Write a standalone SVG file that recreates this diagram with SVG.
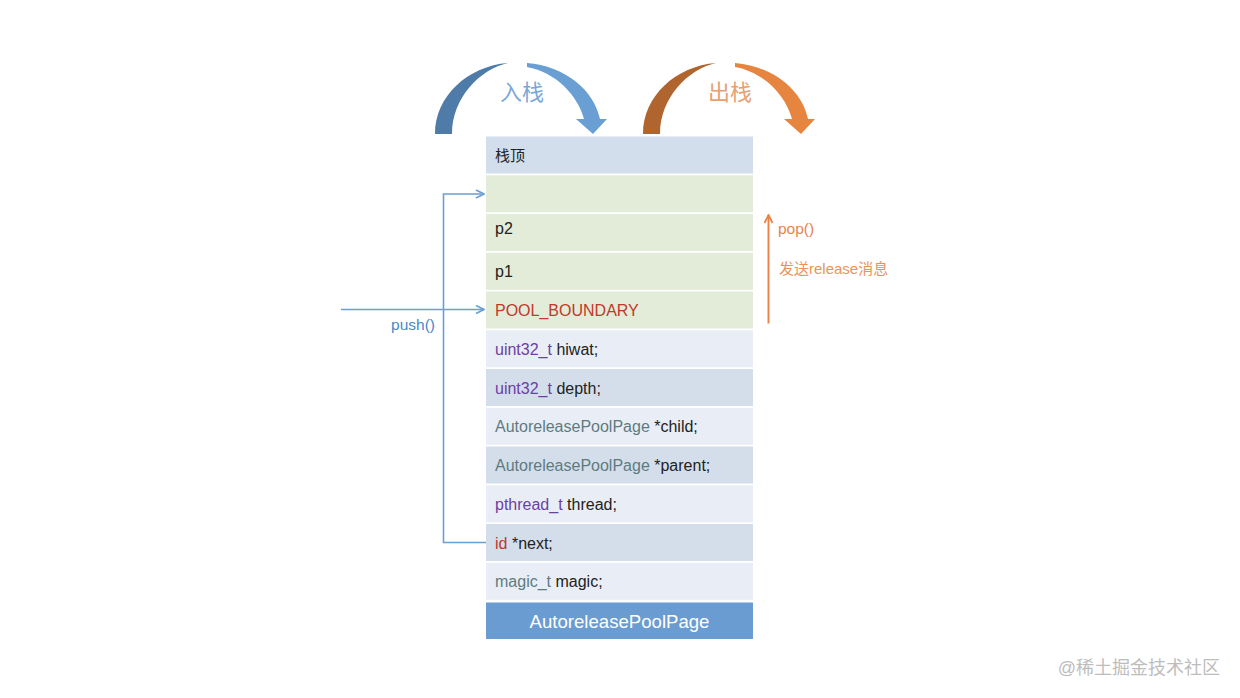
<svg xmlns="http://www.w3.org/2000/svg" width="1240" height="698" viewBox="0 0 1240 698">
<style>
text{font-family:"Liberation Sans","Noto Sans CJK SC",Arial,sans-serif;font-size:15px;dominant-baseline:central}
.r{font-size:16px}
.k{fill:#222}
.pu{fill:#6b3fa3}
.gt{fill:#5e7b80}
.rd{fill:#c0342c}
.lt{fill:#e9eef6}
.dk{fill:#d4deeb}
.gr{fill:#e3ecd9}
.bl{stroke:#6a9fd4;stroke-width:1.6;fill:none}
.or{stroke:#e8844a;stroke-width:2;fill:none}
</style>
<defs>
<marker id="ab" viewBox="0 0 10 10" refX="9" refY="5" markerWidth="10" markerHeight="10" markerUnits="userSpaceOnUse" orient="auto">
<path d="M1,1 L9,5 L1,9" fill="none" stroke="#6a9fd4" stroke-width="1.6"/>
</marker>
<marker id="ao" viewBox="0 0 10 10" refX="9" refY="5" markerWidth="10" markerHeight="10" markerUnits="userSpaceOnUse" orient="auto">
<path d="M1,1 L9,5 L1,9" fill="none" stroke="#e8844a" stroke-width="1.8"/>
</marker>
</defs>
<rect width="1240" height="698" fill="#fff"/>

<g id="push-arc">
<path d="M435,134 C435,96 468,66 508,63 C480,69 452,98 452,134 Z" fill="#4f7ba9"/>
<path d="M527,63 C565,66 594,90 600,119 L607,119 L593,134 L576,119 L584,119 C578,96 556,72 527,67 Z" fill="#6a9fd4"/>
<text x="522" y="92" style="font-size:22px;fill:#7ba7d6" text-anchor="middle">入栈</text>
</g>
<g id="pop-arc">
<path d="M643,134 C643,96 676,66 716,63 C688,69 660,98 660,134 Z" fill="#b0652f"/>
<path d="M735,63 C773,66 802,90 808,119 L815,119 L801,134 L784,119 L792,119 C786,96 764,72 735,67 Z" fill="#e5853f"/>
<text x="730" y="92" style="font-size:22px;fill:#e8a070" text-anchor="middle">出栈</text>
</g>

<g id="stack">
<g id="row-top"><rect x="486" y="136.5" width="267" height="37" fill="#d3deed"/><text x="495" y="155" class="k">栈顶</text></g>
<g id="row-empty"><rect x="486" y="175.3" width="267" height="37" class="gr"/></g>
<g id="row-p2"><rect x="486" y="214" width="267" height="37" class="gr"/><text x="495" y="228" class="k r">p2</text></g>
<g id="row-p1"><rect x="486" y="252.8" width="267" height="37" class="gr"/><text x="495" y="271" class="k r">p1</text></g>
<g id="row-boundary"><rect x="486" y="291.5" width="267" height="37" class="gr"/><text x="495" y="310" class="r" style="fill:#c0392b">POOL_BOUNDARY</text></g>
<g id="row-hiwat"><rect x="486" y="330.3" width="267" height="37" class="lt"/><text x="495" y="349" class="r"><tspan class="pu">uint32_t</tspan><tspan class="k"> hiwat;</tspan></text></g>
<g id="row-depth"><rect x="486" y="369" width="267" height="37" class="dk"/><text x="495" y="388" class="r"><tspan class="pu">uint32_t</tspan><tspan class="k"> depth;</tspan></text></g>
<g id="row-child"><rect x="486" y="407.8" width="267" height="37" class="lt"/><text x="495" y="426" class="r"><tspan class="gt">AutoreleasePoolPage</tspan><tspan class="k"> *child;</tspan></text></g>
<g id="row-parent"><rect x="486" y="446.5" width="267" height="37" class="dk"/><text x="495" y="465" class="r"><tspan class="gt">AutoreleasePoolPage</tspan><tspan class="k"> *parent;</tspan></text></g>
<g id="row-thread"><rect x="486" y="485.3" width="267" height="37" class="lt"/><text x="495" y="504" class="r"><tspan class="pu">pthread_t</tspan><tspan class="k"> thread;</tspan></text></g>
<g id="row-next"><rect x="486" y="524" width="267" height="37" class="dk"/><text x="495" y="543" class="r"><tspan class="rd">id</tspan><tspan class="k"> *next;</tspan></text></g>
<g id="row-magic"><rect x="486" y="562.8" width="267" height="37" class="lt"/><text x="495" y="581" class="r"><tspan class="gt">magic_t</tspan><tspan class="k"> magic;</tspan></text></g>
<g id="row-title"><rect x="486" y="602.5" width="267" height="36.5" fill="#6a9bd1"/><text x="619.5" y="621" text-anchor="middle" style="font-size:18.6px;fill:#fff">AutoreleasePoolPage</text></g>
</g>

<g id="connectors">
<path class="bl" d="M486,542.5 H443.5 V194 H484" marker-end="url(#ab)"/>
<path class="bl" d="M341,309.5 H484" marker-end="url(#ab)"/>
<path class="or" d="M768.5,323.5 V215" marker-end="url(#ao)"/>
</g>
<text x="413" y="324" text-anchor="middle" style="font-size:15.5px;fill:#4a88c8">push()</text>
<text x="778" y="228" style="font-size:15.5px;fill:#e8844a">pop()</text>
<text x="779" y="268" style="fill:#ea925c">发送release消息</text>
<text x="1220" y="668" text-anchor="end" style="font-size:18px;fill:#bdbdbd">@稀土掘金技术社区</text>
</svg>
